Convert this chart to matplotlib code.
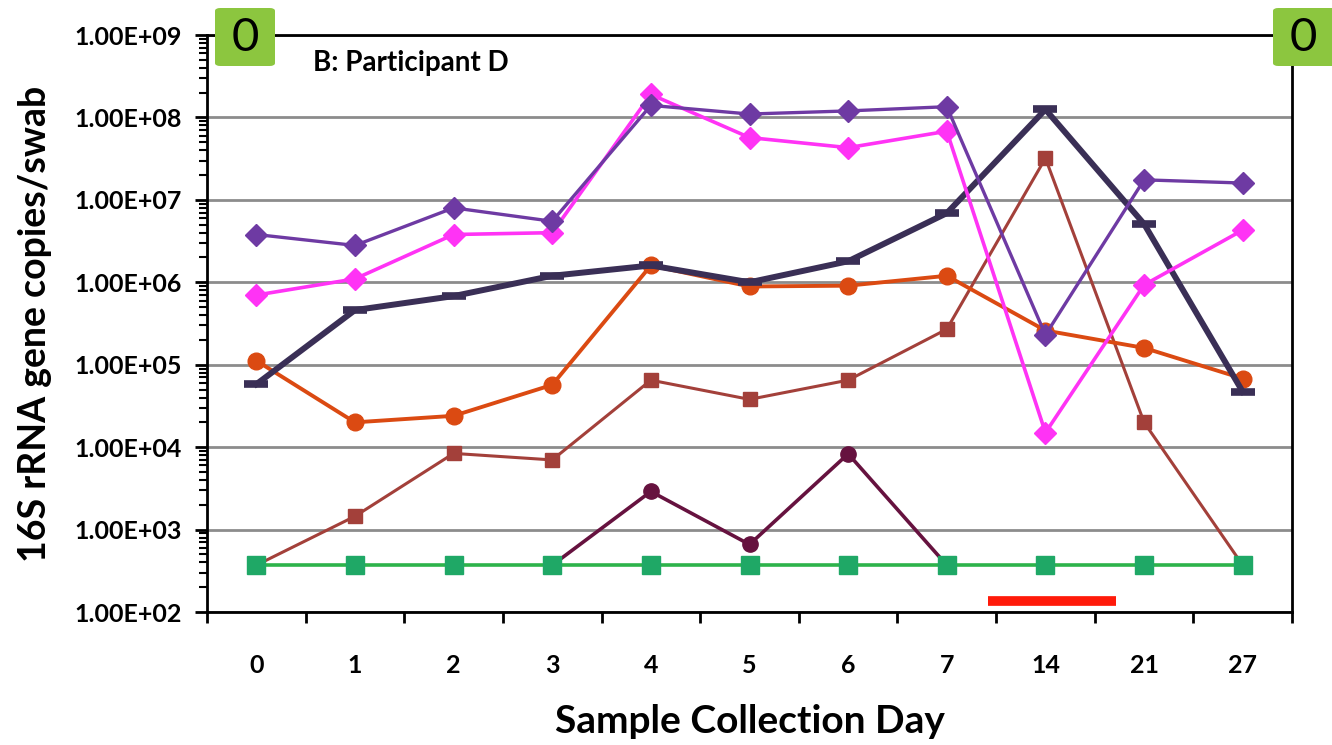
import matplotlib
matplotlib.use("Agg")
import matplotlib.pyplot as plt
from matplotlib.patches import FancyBboxPatch
import numpy as np

plt.rcParams['font.family'] = ['Lato', 'DejaVu Sans']

# sample days (categorical axis)
days = ["0", "1", "2", "3", "4", "5", "6", "7", "14", "21", "27"]
nan = np.nan

# 16S rRNA gene copies per swab
purple = [3.8e6, 2.8e6, 8.0e6, 5.5e6, 1.4e8, 1.1e8, 1.2e8, 1.35e8, 2.3e5, 1.75e7, 1.6e7]
magenta = [7.0e5, 1.1e6, 3.8e6, 4.0e6, 1.9e8, 5.7e7, 4.3e7, 6.8e7, 1.5e4, 9.3e5, 4.3e6]
navy = [5.8e4, 4.6e5, 6.8e5, 1.2e6, 1.6e6, 1.0e6, 1.8e6, 6.9e6, 1.25e8, 5.1e6, 4.7e4]
orange = [1.12e5, 2.0e4, 2.4e4, 5.7e4, 1.6e6, 8.9e5, 9.1e5, 1.2e6, 2.6e5, 1.6e5, 6.8e4]
brown = [3.7e2, 1.45e3, 8.4e3, 7.0e3, 6.5e4, 3.8e4, 6.5e4, 2.7e5, 3.2e7, 2.0e4, 3.7e2]
maroon = [nan, nan, nan, 3.7e2, 2.9e3, 6.6e2, 8.3e3, 3.7e2, nan, nan, nan]
green = [3.7e2] * 11

# treatment period bar (in category units) and its height
treat_start, treat_end, treat_level = 7.42, 8.72, 1.36e2

x = np.arange(len(days))

fig = plt.figure(figsize=(13.32, 7.45), dpi=100)
ax = fig.add_axes([0.1554, 0.1785, 0.8146, 0.7745])

ax.plot(x, maroon, color='#66123F', lw=2.6, marker='o', ms=11, zorder=3)
ax.plot(x, brown, color='#A3403A', lw=2.2, marker='s', ms=10.5, zorder=3)
ax.plot(x, green, color='#2DB34A', lw=2.6, marker='s', ms=12.5,
        mfc='#1FA866', mec='#1FA866', zorder=4)
ax.plot(x, orange, color='#DB4A12', lw=2.8, marker='o', ms=12, zorder=3)
ax.plot(x, navy, color='#3A2F56', lw=4.3, marker='_', ms=17, mew=5.5, zorder=3)
ax.plot(x, magenta, color='#FF33F5', lw=2.6, marker='D', ms=11, zorder=3)
ax.plot(x, purple, color='#6E3AA3', lw=2.4, marker='D', ms=11, zorder=3)

ax.plot([treat_start, treat_end], [treat_level, treat_level], color='#FF1A0A',
        lw=7, solid_capstyle='butt', zorder=5)

ax.set_yscale('log')
ax.set_ylim(1e2, 1e9)
ax.set_xlim(-0.5, len(days) - 0.5)

ax.set_yticks([10.0 ** k for k in range(2, 10)])
ax.set_yticklabels(["1.00E+%02d" % k for k in range(2, 10)])
ax.yaxis.grid(True, which='major', color='#8C8C8C', lw=2)
ax.set_axisbelow(True)

ax.set_xticks(np.arange(-0.5, len(days), 1))
ax.set_xticklabels([])
ax.set_xticks(x, minor=True)
ax.set_xticklabels(days, minor=True)

ax.tick_params(axis='x', which='major', direction='out', length=8, width=2)
ax.tick_params(axis='x', which='minor', length=0, pad=30, labelsize=18)
ax.tick_params(axis='y', which='major', direction='out', length=9, width=2,
               labelsize=18, pad=9)
ax.tick_params(axis='y', which='minor', direction='out', length=6, width=1.5)
for lbl in ax.get_yticklabels() + ax.get_xticklabels(minor=True):
    lbl.set_fontweight('bold')

for s in ax.spines.values():
    s.set_linewidth(2)
    s.set_color('black')

ax.set_ylabel("16S rRNA gene copies/swab", fontsize=27, fontweight='bold', labelpad=16)
ax.set_xlabel("Sample Collection Day", fontsize=28, fontweight='bold', labelpad=20)

ax.text(0.098, 0.952, "B: Participant D", transform=ax.transAxes, fontsize=20,
        fontweight='bold', va='center', ha='left')

# green "0" boxes on the corners (figure pixels: left, width)
for bx, bw in [(215, 60), (1273, 64)]:
    box = FancyBboxPatch((bx / 1332, 1 - 66 / 745), bw / 1332, 58 / 745,
                         boxstyle='round,pad=0,rounding_size=0.004',
                         transform=fig.transFigure, fc='#8CC63F', ec='none',
                         zorder=10)
    fig.patches.append(box)
    fig.text((bx + 30) / 1332, 1 - 38 / 745, "0", fontsize=34, ha='center',
             va='center', zorder=11)

fig.savefig("out.png", dpi=100)
